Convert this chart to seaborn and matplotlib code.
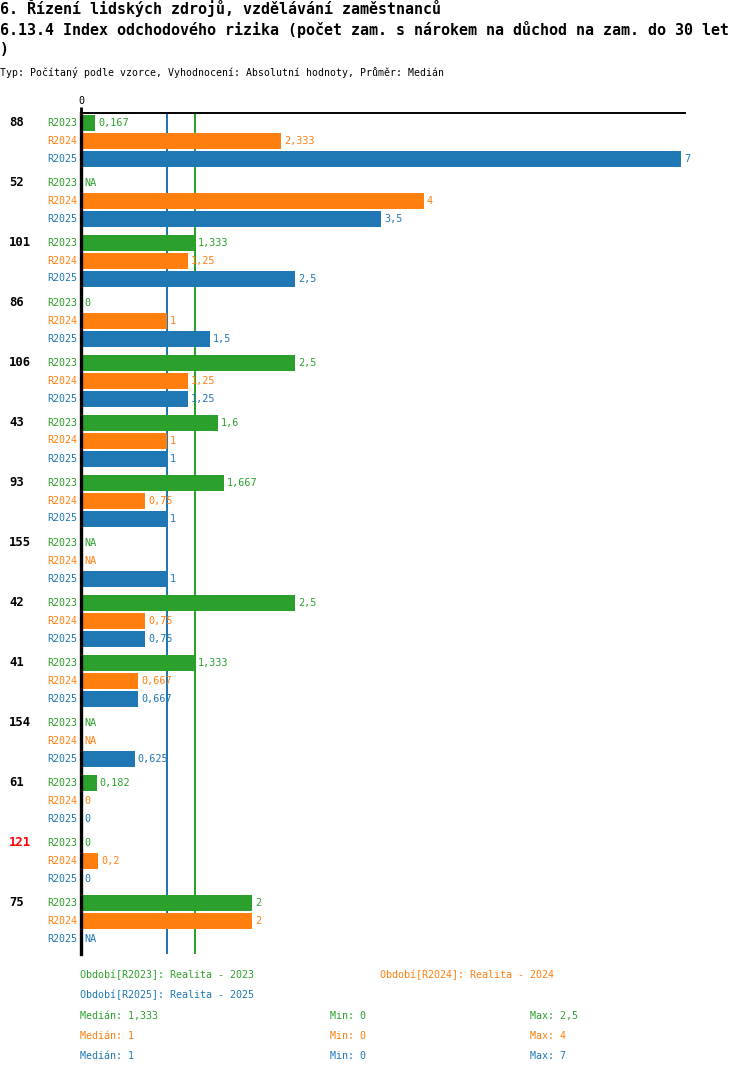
import matplotlib
matplotlib.use('Agg')
import matplotlib.pyplot as plt
import seaborn as sns
import numpy as np
import pandas as pd

# ----------- data ---------------
groups = ['88', '52', '101', '86', '106', '43', '93', '155', '42', '41', '154', '61', '121', '75']
series = ['R2023', 'R2024', 'R2025']
r2023 = [0.167, np.nan, 1.333, 0, 2.5, 1.6, 1.667, np.nan, 2.5, 1.333, np.nan, 0.182, 0, 2]
r2024 = [2.333, 4, 1.25, 1, 1.25, 1, 0.75, np.nan, 0.75, 0.667, np.nan, 0, 0.2, 2]
r2025 = [7, 3.5, 2.5, 1.5, 1.25, 1, 1, 1, 0.75, 0.667, 0.625, 0, 0, np.nan]
period_names = ['Realita - 2023', 'Realita - 2024', 'Realita - 2025']
highlight = ['121']

colors = {'R2023': '#2ca02c', 'R2024': '#ff7f0e', 'R2025': '#1f77b4'}

W, H = 750, 1074
X0, X1 = 81, 685        # pixel span of axes
Y0, Y1 = 113, 954
PX_PER_UNIT = 85.7


def fmt(v):
    s = f"{v:.3f}".rstrip('0').rstrip('.')
    return s.replace('.', ',')


def fx(px):
    return px / W


def fy(py):
    return 1 - py / H


sns.set_style('white')
plt.rcParams['font.family'] = ['DejaVu Sans Mono']
plt.rcParams['text.color'] = 'black'
plt.rcParams['xtick.color'] = 'black'

fig = plt.figure(figsize=(W / 100, H / 100), dpi=100)
ax = fig.add_axes([fx(X0), fy(Y1), (X1 - X0) / W, (Y1 - Y0) / H])

values = [r2023, r2024, r2025]
rows = []
for g in range(len(groups)):
    for r, s in enumerate(series):
        rows.append({'pos': 122.5 + g * 60 + r * 18, 'value': values[r][g], 'series': s,
                     'group': groups[g], 'row': r})
df = pd.DataFrame(rows)

# median lines behind bars
medians = [np.nanmedian(v) for v in values]
for s, m in zip(series, medians):
    ax.axvline(m, color=colors[s], lw=1.1, zorder=0.5, antialiased=False)

sns.barplot(data=df.dropna(subset=['value']), x='value', y='pos', hue='series',
            palette=colors, orient='h', native_scale=True, dodge=False,
            width=16 / 18, saturation=1, errorbar=None, legend=False, ax=ax,
            linewidth=0, edgecolor='none', zorder=2)

ax.set_xlim(0, (X1 - X0) / PX_PER_UNIT)
ax.set_ylim(Y1, Y0)
ax.set_xlabel('')
ax.set_ylabel('')
ax.set_yticks([])
ax.xaxis.tick_top()
ax.set_xticks([0])
ax.set_xticklabels(['0'], fontsize=7.2)
ax.tick_params(axis='x', length=4, width=2, pad=1, colors='black')
for sp in ['right', 'bottom']:
    ax.spines[sp].set_visible(False)
ax.spines['left'].set_linewidth(2.4)
ax.spines['left'].set_color('black')
ax.spines['top'].set_linewidth(1.4)
ax.spines['top'].set_color('black')
for sp in ax.spines.values():
    sp.set_zorder(5)

# value labels and row labels
for _, row in df.iterrows():
    c = colors[row['series']]
    v = row['value']
    txt = 'NA' if np.isnan(v) else fmt(v)
    ax.annotate(txt, xy=(0 if np.isnan(v) else v, row['pos']), xytext=(3, 0),
                textcoords='offset pixels', va='center', ha='left',
                fontsize=7.3, color=c, annotation_clip=False)
    fig.text(fx(77), fy(row['pos']), row['series'], ha='right', va='center',
             fontsize=7.2, color=c)
    if row['row'] == 0:
        fig.text(fx(9), fy(row['pos']), row['group'], ha='left', va='center',
                 fontsize=8.8, fontweight='bold',
                 color='#ff0000' if row['group'] in highlight else 'black')

# titles
fig.text(0, fy(8), '6. Řízení lidských zdrojů, vzdělávání zaměstnanců',
         fontsize=10.8, fontweight='bold', va='center', ha='left')
fig.text(0, fy(30), '6.13.4 Index odchodového rizika (počet zam. s nárokem na důchod na zam. do 30 let',
         fontsize=10.8, fontweight='bold', va='center', ha='left')
fig.text(0, fy(50), ')', fontsize=10.8, fontweight='bold', va='center', ha='left')
fig.text(0, fy(73), 'Typ: Počítaný podle vzorce, Vyhodnocení: Absolutní hodnoty, Průměr: Medián',
         fontsize=7.1, va='center', ha='left')

# legend
leg_pos = [(80, 975), (380, 975), (80, 995)]
for s, name, (lx, ly) in zip(series, period_names, leg_pos):
    fig.text(fx(lx), fy(ly), f'Období[{s}]: {name}', fontsize=7.2, color=colors[s],
             va='center', ha='left')

for i, s in enumerate(series):
    ly = 1016 + i * 20
    v = np.array(values[i], dtype=float)
    fig.text(fx(80), fy(ly), f'Medián: {fmt(np.nanmedian(v))}', fontsize=7.2,
             color=colors[s], va='center', ha='left')
    fig.text(fx(330), fy(ly), f'Min: {fmt(np.nanmin(v))}', fontsize=7.2,
             color=colors[s], va='center', ha='left')
    fig.text(fx(530), fy(ly), f'Max: {fmt(np.nanmax(v))}', fontsize=7.2,
             color=colors[s], va='center', ha='left')

fig.savefig('out.png', dpi=100)
